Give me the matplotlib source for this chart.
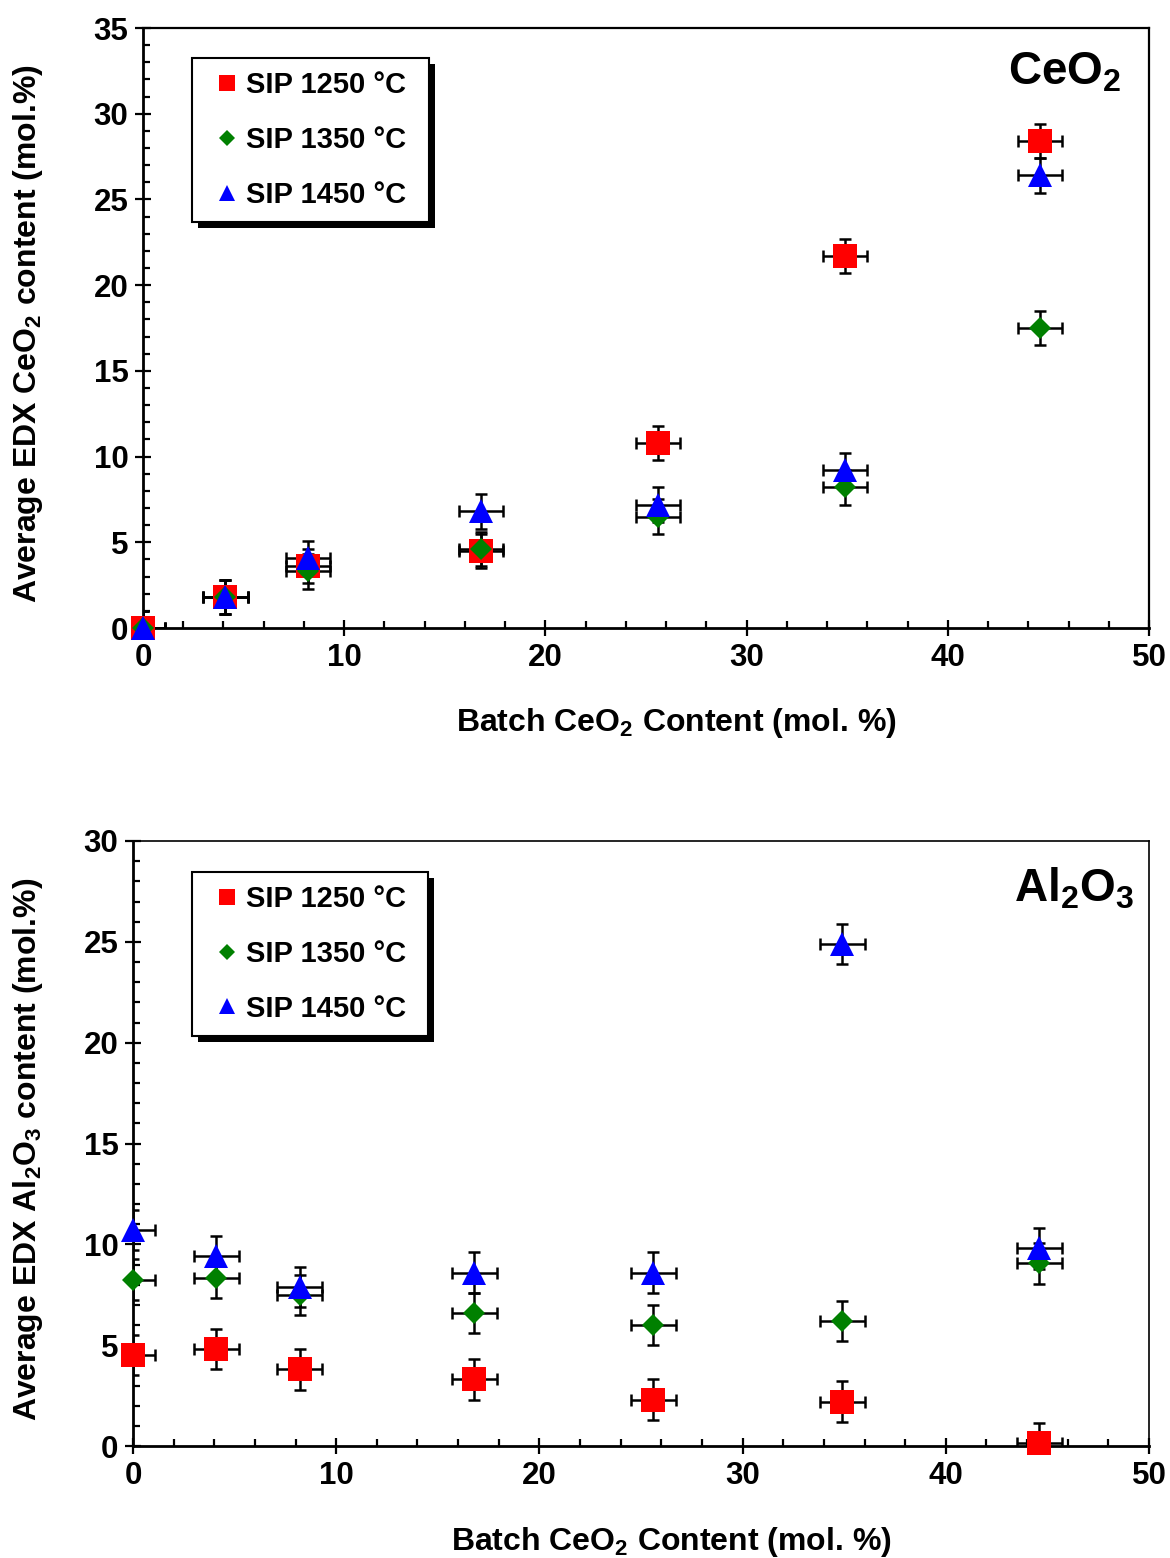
import numpy as np
import matplotlib
matplotlib.use('Agg')
import matplotlib.pyplot as plt
from matplotlib.patches import Rectangle
from matplotlib.transforms import IdentityTransform
from matplotlib.ticker import MultipleLocator

plt.rcParams['font.family'] = ['Liberation Sans', 'DejaVu Sans']
plt.rcParams['font.weight'] = 'bold'
plt.rcParams['mathtext.fontset'] = 'custom'
plt.rcParams['mathtext.rm'] = 'Liberation Sans:bold'
plt.rcParams['mathtext.it'] = 'Liberation Sans:bold'
plt.rcParams['mathtext.bf'] = 'Liberation Sans:bold'
plt.rcParams['mathtext.default'] = 'rm'

# batch CeO2 content (mol.%)
batch = [0.0, 4.1, 8.2, 16.8, 25.6, 34.9, 44.6]
labels = ['SIP 1250 °C', 'SIP 1350 °C', 'SIP 1450 °C']

# EDX CeO2 content
ceo2_1250 = [0.0, 1.8, 3.6, 4.5, 10.8, 21.7, 28.4]
ceo2_1350 = [0.0, 1.8, 3.3, 4.6, 6.5, 8.2, 17.5]
ceo2_1450 = [0.0, 1.8, 4.1, 6.8, 7.2, 9.2, 26.4]

# EDX Al2O3 content
al2o3_1250 = [4.5, 4.8, 3.8, 3.3, 2.3, 2.2, 0.15]
al2o3_1350 = [8.25, 8.35, 7.5, 6.6, 6.0, 6.2, 9.05]
al2o3_1450 = [10.7, 9.4, 7.9, 8.6, 8.6, 24.9, 9.8]

xerr = 1.1
yerr = 1.0

styles = [('s', '#ff0000', 17), ('D', '#008000', 11.5), ('^', '#0000ff', 17)]

fig = plt.figure(figsize=(11.7, 15.58), dpi=100)
ax1 = fig.add_axes([143/1170, 1-628/1558, 1006/1170, 600/1558])
ax2 = fig.add_axes([133/1170, 1-1446/1558, 1016/1170, 605/1558])


def panel(ax, series, ymax, title, ylab, frame_lw, leg_xy, title_xy, ylab_x):
    for (m, c, ms), y, lab in zip(styles, series, labels):
        ax.errorbar(batch, y, xerr=xerr, yerr=yerr, fmt='none', ecolor='black',
                    elinewidth=1.8, capsize=4, capthick=1.8, zorder=2)
    for (m, c, ms), y, lab in zip(styles, series, labels):
        ax.plot(batch, y, linestyle='none', marker=m, color=c, markersize=ms,
                markeredgewidth=0, label=lab, zorder=3, clip_on=False)
    ax.set_xlim(0, 50)
    ax.set_ylim(0, ymax)
    ax.xaxis.set_major_locator(MultipleLocator(10))
    ax.xaxis.set_minor_locator(MultipleLocator(2))
    ax.yaxis.set_major_locator(MultipleLocator(5))
    ax.yaxis.set_minor_locator(MultipleLocator(1))
    ax.tick_params(which='major', direction='inout', length=11, width=1.6,
                   labelsize=22.5, pad=5)
    ax.tick_params(which='minor', direction='in', length=5, width=1.6)
    ax.tick_params(top=False, right=False, which='both')
    for s in ['left', 'bottom']:
        ax.spines[s].set_linewidth(2)
    for s in ['top', 'right']:
        ax.spines[s].set_linewidth(frame_lw)
    for lbl in ax.get_xticklabels() + ax.get_yticklabels():
        lbl.set_fontweight('bold')
    ax.set_xlabel('Batch CeO$_2$ Content (mol. %)', fontsize=23, fontweight='bold')
    ax.set_ylabel(ylab, fontsize=23, fontweight='bold')
    ax.xaxis.set_label_coords(0.53, -0.13)
    ax.yaxis.set_label_coords(ylab_x, 0.49)
    ax.text(title_xy[0], title_xy[1], title, transform=ax.transAxes, ha='right',
            va='top', fontsize=33, fontweight='bold')
    leg = ax.legend(loc='upper left', bbox_to_anchor=leg_xy, fontsize=21,
                    markerscale=0.68, frameon=False,
                    handlelength=0.9, handletextpad=0.2, labelspacing=0.92,
                    borderpad=0.45, borderaxespad=0)
    leg.set_zorder(5)
    return leg


leg1 = panel(ax1, [ceo2_1250, ceo2_1350, ceo2_1450], 35, 'CeO$_2$',
             'Average EDX CeO$_2$ content (mol.%)', 1.6, (0.0577, 0.95),
             (0.973, 0.963), -0.097)
leg2 = panel(ax2, [al2o3_1250, al2o3_1350, al2o3_1450], 30, 'Al$_2$O$_3$',
             'Average EDX Al$_2$O$_3$ content (mol.%)', 1.2, (0.0669, 0.949),
             (0.985, 0.958), -0.0866)

# legend frame (wider than the packed entries) with a solid black drop shadow
fig.canvas.draw()
for ax, leg in [(ax1, leg1), (ax2, leg2)]:
    bb = leg.get_window_extent()
    x0, w = bb.x0 - 9, bb.width + 18
    ax.add_patch(Rectangle((x0 + 6, bb.y0 - 6), w, bb.height,
                           transform=IdentityTransform(), facecolor='black',
                           edgecolor='none', zorder=4.8, clip_on=False))
    ax.add_patch(Rectangle((x0, bb.y0), w, bb.height,
                           transform=IdentityTransform(), facecolor='white',
                           edgecolor='black', linewidth=1.5, zorder=4.9,
                           clip_on=False))

fig.savefig('out.png', dpi=100)
